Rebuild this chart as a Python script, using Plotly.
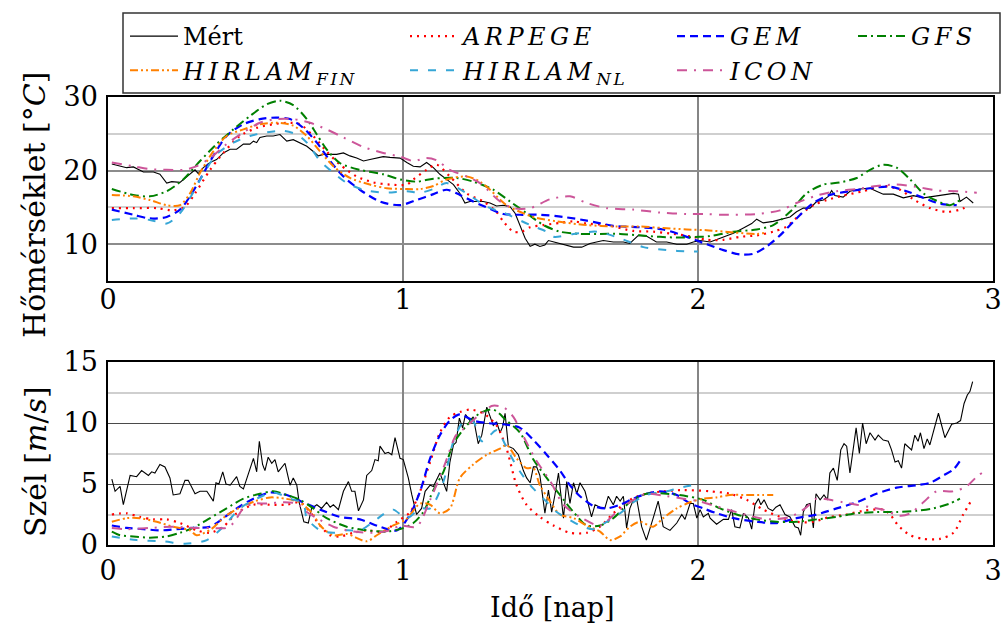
import plotly.graph_objects as go

# ---------------- DATA ----------------
# Temperature (top panel)
mert_t_x = [0.013,0.04,0.063,0.086,0.12,0.154,0.176,0.199,0.216,0.244,0.267,0.295,0.306,0.323,0.346,0.368,0.391,0.414,0.436,0.459,0.481,0.493,0.504,0.515,0.538,0.560,0.583,0.606,0.628,0.651,0.674,0.696,0.713,0.730,0.753,0.775,0.798,0.820,0.843,0.866,0.888,0.911,0.933,0.956,0.990,1.013,1.035,1.058,1.080,1.103,1.125,1.148,1.171,1.193,1.210,1.227,1.250,1.272,1.295,1.317,1.340,1.363,1.380,1.397,1.414,1.431,1.447,1.464,1.481,1.493,1.510,1.544,1.578,1.606,1.634,1.656,1.679,1.713,1.747,1.769,1.798,1.825,1.859,1.894,1.928,1.962,1.984,2.007,2.041,2.075,2.12,2.154,2.182,2.199,2.221,2.255,2.289,2.312,2.334,2.357,2.380,2.402,2.425,2.442,2.453,2.464,2.492,2.515,2.549,2.583,2.605,2.628,2.662,2.696,2.730,2.764,2.798,2.832,2.866,2.883,2.888,2.910,2.933]
mert_t_y = [20.9,20.6,20.4,20.5,19.8,19.8,19.5,18.3,18.5,18.4,19.2,20.1,19.6,20.4,21.1,21.5,22.4,22.9,22.9,23.6,23.6,24.0,23.8,24.5,24.7,24.7,24.9,24.0,24.2,23.8,23.3,22.6,22.0,22.2,22.2,22.2,22.4,22.0,21.7,21.3,21.5,21.7,21.9,21.8,21.7,21.1,20.6,20.5,21.1,20.4,19.5,18.8,18.1,16.9,15.6,15.8,15.8,15.8,15.6,15.2,15.3,15.1,14.2,12.4,10.8,9.7,10.0,9.7,9.9,10.5,10.3,9.9,9.6,9.6,10.1,10.3,10.5,10.3,10.3,10.1,11.2,11.1,10.3,10.3,10.0,10.0,10.3,10.5,10.3,10.8,11.5,12.2,12.8,13.4,12.9,13.1,13.5,13.7,14.4,14.9,14.9,15.8,16.0,16.5,17.3,16.6,16.4,17.2,17.5,17.6,17.2,16.8,16.8,16.3,16.6,16.3,16.5,16.7,16.9,16.8,15.8,16.4,15.6]

arpege_t_x = [0.013,0.086,0.165,0.221,0.261,0.295,0.346,0.391,0.447,0.504,0.560,0.617,0.651,0.696,0.741,0.787,0.843,0.899,0.956,1.013,1.035,1.080,1.114,1.159,1.216,1.272,1.317,1.340,1.374,1.402,1.431,1.476,1.532,1.578,1.623,1.690,1.781,1.849,1.916,1.984,2.029,2.086,2.142,2.199,2.255,2.300,2.346,2.391,2.436,2.492,2.560,2.628,2.685,2.730,2.787,2.843,2.888,2.910]
arpege_t_y = [14.9,14.9,14.9,14.6,15.1,16.9,20.1,22.4,24.7,25.8,26.3,26.5,26.3,24.7,22.6,20.8,19.2,18.4,18.1,18.1,18.8,20.1,20.8,19.2,16.9,15.8,14.4,13.1,11.7,11.7,12.3,12.6,12.9,13.1,12.8,12.6,11.8,11.7,11.4,11.0,10.6,10.6,11.0,11.2,11.7,12.4,14.0,15.3,16.0,16.6,17.2,17.9,17.4,16.1,14.9,14.4,14.7,15.1]

gem_t_x = [0.013,0.086,0.142,0.199,0.244,0.278,0.312,0.357,0.402,0.459,0.515,0.571,0.617,0.662,0.708,0.753,0.798,0.854,0.922,0.990,1.046,1.103,1.148,1.193,1.238,1.295,1.340,1.397,1.464,1.544,1.623,1.713,1.803,1.882,1.962,2.029,2.086,2.142,2.188,2.233,2.278,2.334,2.391,2.447,2.515,2.583,2.651,2.707,2.764,2.820,2.877]
gem_t_y = [14.7,14.0,13.5,13.7,14.7,16.5,18.8,22.0,24.7,26.3,27.0,27.2,27.0,25.8,23.8,21.3,19.2,17.4,15.8,15.3,16.0,16.8,17.4,16.7,15.8,14.8,14.1,14.0,14.0,13.7,13.2,12.5,12.3,12.0,11.0,10.0,9.2,8.6,8.7,9.7,11.2,13.5,15.6,16.7,17.2,17.6,17.8,17.2,16.3,15.5,15.3]

gfs_t_x = [0.013,0.086,0.142,0.199,0.255,0.312,0.368,0.425,0.481,0.538,0.583,0.628,0.674,0.708,0.741,0.787,0.854,0.933,0.990,1.046,1.103,1.182,1.238,1.306,1.363,1.419,1.476,1.532,1.600,1.668,1.736,1.803,1.871,1.939,2.007,2.041,2.12,2.199,2.255,2.312,2.368,2.425,2.481,2.538,2.583,2.628,2.673,2.719,2.764,2.809,2.854,2.888]
gfs_t_y = [17.5,16.7,16.5,17.2,18.8,21.3,23.6,25.6,27.4,29.0,29.5,28.9,27.0,24.9,22.9,21.0,20.1,19.5,18.8,18.5,18.9,19.0,18.5,17.4,15.8,14.2,12.6,11.7,11.4,11.4,11.4,11.2,11.0,10.9,11.0,11.1,11.7,12.0,12.6,14.4,16.9,18.1,18.4,19.0,20.1,20.8,20.4,18.8,16.9,15.9,15.3,16.0]

hfin_t_x = [0.013,0.086,0.142,0.199,0.244,0.278,0.312,0.357,0.402,0.459,0.515,0.571,0.628,0.674,0.719,0.764,0.820,0.888,0.945,1.013,1.058,1.103,1.148,1.216,1.261,1.295,1.351,1.442,1.521,1.623,1.724,1.803,1.882,1.962,2.029,2.12,2.199,2.233]
hfin_t_y = [16.7,16.5,16.0,15.3,15.3,16.9,19.7,22.6,24.7,25.6,26.3,26.5,26.1,24.7,22.6,20.6,19.0,18.1,17.6,17.5,17.5,17.9,18.8,19.2,18.5,17.4,15.3,13.7,13.1,12.6,12.4,12.4,12.2,12.0,11.9,11.6,11.4,11.6]

hnl_t_x = [0.013,0.086,0.142,0.199,0.244,0.284,0.323,0.368,0.425,0.481,0.538,0.594,0.640,0.674,0.719,0.764,0.810,0.866,0.933,1.013,1.058,1.103,1.148,1.216,1.284,1.340,1.431,1.487,1.510,1.578,1.657,1.736,1.815,1.894,1.973,2.0]
hnl_t_y = [13.3,13.5,13.3,12.8,14.2,16.7,19.5,22.2,23.8,24.7,25.2,25.4,24.9,23.8,21.3,19.7,18.3,17.4,17.0,17.2,17.0,17.5,18.3,16.9,15.1,14.3,12.6,11.7,11.0,11.4,11.7,10.8,9.6,9.2,9.0,9.0]

icon_t_x = [0.013,0.086,0.142,0.199,0.255,0.301,0.346,0.402,0.459,0.515,0.571,0.628,0.685,0.741,0.798,0.866,0.933,0.990,1.035,1.080,1.114,1.159,1.216,1.261,1.329,1.374,1.431,1.498,1.566,1.623,1.690,1.781,1.871,1.962,2.029,2.086,2.199,2.278,2.334,2.402,2.470,2.538,2.605,2.673,2.741,2.809,2.877,2.945]
icon_t_y = [21.1,20.6,20.2,20.1,20.1,20.6,21.7,23.6,25.2,26.5,27.0,27.0,26.5,25.6,24.5,23.2,22.4,21.9,21.3,21.7,21.4,20.1,19.2,18.3,15.8,14.9,14.9,16.1,16.5,15.6,14.9,14.7,14.3,14.1,14.1,14.0,14.1,14.6,15.6,16.6,17.2,17.5,17.9,18.1,17.8,17.3,17.2,17.0]

# Wind (bottom panel)
mert_w_x = [0.013,0.024,0.041,0.052,0.075,0.097,0.114,0.137,0.148,0.159,0.176,0.193,0.210,0.221,0.244,0.261,0.272,0.295,0.312,0.335,0.357,0.366,0.376,0.389,0.400,0.414,0.436,0.447,0.459,0.476,0.493,0.504,0.513,0.524,0.532,0.543,0.555,0.566,0.577,0.600,0.617,0.628,0.640,0.648,0.664,0.679,0.690,0.708,0.724,0.741,0.753,0.764,0.781,0.798,0.815,0.826,0.837,0.849,0.866,0.877,0.894,0.905,0.916,0.922,0.939,0.950,0.962,0.973,0.990,1.001,1.018,1.030,1.046,1.063,1.075,1.092,1.103,1.125,1.148,1.159,1.171,1.180,1.191,1.202,1.212,1.227,1.238,1.255,1.267,1.284,1.295,1.306,1.317,1.329,1.338,1.346,1.357,1.374,1.391,1.408,1.419,1.431,1.442,1.453,1.464,1.481,1.493,1.504,1.515,1.527,1.544,1.555,1.566,1.578,1.589,1.600,1.617,1.639,1.651,1.668,1.684,1.696,1.713,1.724,1.736,1.747,1.758,1.769,1.781,1.792,1.809,1.825,1.848,1.865,1.882,1.905,1.928,1.945,1.956,1.973,1.984,1.996,2.007,2.018,2.035,2.041,2.063,2.086,2.103,2.114,2.125,2.142,2.154,2.171,2.182,2.193,2.205,2.213,2.224,2.238,2.253,2.264,2.278,2.295,2.312,2.329,2.340,2.348,2.357,2.368,2.380,2.391,2.400,2.414,2.427,2.439,2.447,2.459,2.472,2.484,2.495,2.504,2.515,2.527,2.536,2.547,2.558,2.570,2.583,2.600,2.611,2.628,2.645,2.656,2.668,2.679,2.690,2.701,2.724,2.735,2.746,2.754,2.766,2.777,2.786,2.798,2.815,2.837,2.860,2.877,2.890,2.902,2.913,2.922,2.931]
mert_w_y = [5.4,4.4,4.8,3.3,5.7,5.6,6.1,5.7,6.0,5.9,6.6,6.4,5.5,4.1,4.2,5.3,5.3,4.2,4.4,4.4,3.6,5.1,5.0,6.0,5.0,4.9,5.6,4.8,4.6,5.9,7.1,6.0,8.5,6.6,6.1,7.2,6.7,7.0,6.0,6.7,4.9,5.5,4.9,3.5,1.9,1.8,3.0,3.3,3.0,3.5,3.1,3.3,2.9,4.4,5.2,4.4,4.4,2.8,3.7,5.7,6.1,7.0,6.9,8.1,7.5,7.6,7.4,8.8,7.1,7.0,5.5,4.1,2.5,3.0,4.4,4.9,4.8,5.9,4.4,6.8,8.2,8.4,10.4,9.6,10.7,10.2,10.5,8.3,9.0,11.3,10.5,9.8,10.1,9.2,9.7,10.8,8.1,7.9,7.4,6.1,5.5,5.1,6.4,6.4,5.7,2.6,4.5,2.7,4.1,5.9,2.2,5.2,3.4,5.1,4.2,5.1,4.4,2.3,3.3,3.1,3.0,4.0,3.3,4.0,3.6,4.0,1.4,3.0,3.7,3.8,1.5,0.4,2.2,3.6,1.5,1.2,1.8,2.5,2.1,3.4,3.4,2.2,2.9,2.3,2.6,2.2,1.7,2.1,2.1,2.9,1.5,1.4,2.6,2.2,1.3,3.3,3.8,3.3,3.7,3.0,2.8,3.1,3.3,2.5,2.3,1.5,1.4,0.8,2.7,3.3,3.4,1.4,4.2,3.7,4.1,3.7,5.9,6.3,5.3,7.8,8.3,8.1,5.9,7.9,9.6,7.5,10.0,8.3,9.2,8.6,9.0,8.6,8.5,7.8,6.8,6.9,6.3,8.3,7.8,9.0,8.5,9.2,7.9,8.7,8.2,9.3,10.8,8.8,9.9,10.0,10.2,11.6,12.3,12.6,13.4]

arpege_w_x = [0.013,0.063,0.108,0.154,0.199,0.244,0.301,0.346,0.391,0.436,0.493,0.549,0.606,0.651,0.685,0.719,0.753,0.787,0.832,0.877,0.933,0.979,1.024,1.058,1.092,1.125,1.159,1.193,1.227,1.272,1.317,1.351,1.385,1.419,1.464,1.510,1.566,1.623,1.668,1.713,1.769,1.825,1.882,1.950,2.041,2.108,2.165,2.221,2.278,2.334,2.391,2.447,2.504,2.560,2.628,2.651,2.679,2.719,2.764,2.820,2.866,2.899,2.928]
arpege_w_y = [2.5,2.6,2.3,2.1,2.1,1.8,1.2,1.0,1.5,2.6,3.3,3.3,3.3,3.5,2.7,1.6,0.8,0.7,1.0,1.2,1.1,1.9,2.7,4.4,6.8,9.2,10.5,10.9,11.1,10.8,9.8,7.9,4.9,3.3,2.3,1.6,1.0,1.0,1.5,2.6,3.7,4.2,4.4,4.5,4.4,4.2,3.7,2.9,2.3,1.9,1.9,2.3,2.5,2.8,2.9,2.5,1.6,0.8,0.5,0.5,1.0,2.5,3.7]

gem_w_x = [0.013,0.063,0.120,0.176,0.233,0.289,0.346,0.391,0.436,0.493,0.549,0.606,0.662,0.719,0.787,0.854,0.922,0.979,1.024,1.058,1.092,1.125,1.159,1.193,1.238,1.284,1.340,1.397,1.442,1.487,1.532,1.566,1.600,1.645,1.690,1.736,1.781,1.825,1.871,1.928,1.973,2.018,2.063,2.12,2.199,2.266,2.334,2.402,2.470,2.538,2.605,2.673,2.741,2.787,2.832,2.866,2.888]
gem_w_y = [1.6,1.4,1.3,1.2,1.3,1.4,1.5,2.2,3.0,3.8,4.3,4.1,3.5,2.9,2.3,2.1,1.5,1.2,2.5,4.4,7.1,9.0,10.2,10.7,10.2,10.0,9.9,9.6,8.6,7.4,6.1,4.9,4.0,3.2,3.0,3.3,3.8,4.2,4.4,4.1,3.4,3.0,2.6,2.2,1.9,1.8,2.2,2.5,3.0,3.5,4.2,4.7,4.9,5.1,5.7,6.2,6.9]

gfs_w_x = [0.013,0.041,0.086,0.142,0.199,0.244,0.289,0.346,0.402,0.459,0.515,0.560,0.606,0.651,0.696,0.741,0.809,0.877,0.945,0.990,1.035,1.069,1.103,1.137,1.171,1.216,1.261,1.306,1.351,1.397,1.442,1.487,1.532,1.578,1.623,1.668,1.713,1.769,1.825,1.894,1.962,2.018,2.075,2.131,2.199,2.266,2.334,2.402,2.470,2.538,2.605,2.673,2.741,2.798,2.854,2.888]
gfs_w_y = [1.1,0.8,0.7,0.6,0.7,1.0,1.4,2.2,3.0,3.8,4.2,4.4,4.1,3.7,3.0,2.2,1.5,1.2,1.1,1.3,1.8,2.7,4.5,6.0,8.3,9.8,10.8,11.1,10.2,9.2,7.0,5.5,4.1,2.7,1.6,1.6,2.2,3.5,4.2,4.2,4.0,3.7,3.0,2.5,2.1,1.9,1.9,2.1,2.3,2.6,2.7,2.7,2.8,3.0,3.4,3.8]

hfin_w_x = [0.013,0.063,0.108,0.165,0.221,0.278,0.30,0.35,0.40,0.45,0.50,0.55,0.60,0.65,0.696,0.719,0.764,0.81,0.877,0.911,0.967,1.01,1.058,1.092,1.125,1.159,1.193,1.238,1.284,1.329,1.351,1.385,1.419,1.442,1.464,1.498,1.532,1.578,1.623,1.668,1.702,1.736,1.769,1.803,1.848,1.882,1.928,1.973,2.018,2.063,2.108,2.165,2.221,2.255]
hfin_w_y = [1.9,2.2,2.2,1.9,1.5,1.2,0.8,1.3,2.4,3.1,3.6,3.9,3.8,3.5,2.5,1.6,0.8,0.9,0.3,0.8,1.6,2.1,3.4,3.3,2.6,3.0,5.5,6.6,7.4,7.9,8.2,7.1,6.3,6.3,4.9,3.6,2.5,2.2,1.6,1.1,0.4,0.7,1.5,1.9,1.5,2.2,3.0,3.5,3.8,3.9,4.1,4.1,4.1,4.1]

hnl_w_x = [0.013,0.097,0.188,0.261,0.335,0.391,0.447,0.504,0.560,0.617,0.662,0.674,0.719,0.764,0.809,0.854,0.899,0.945,0.967,1.013,1.058,1.092,1.137,1.171,1.205,1.238,1.267,1.295,1.317,1.363,1.397,1.431,1.476,1.521,1.555,1.600,1.645,1.690,1.736,1.781,1.825,1.894,1.939,2.007]
hnl_w_y = [0.7,0.4,0.3,0.1,0.4,1.5,3.0,3.8,4.3,3.8,3.4,2.2,1.2,1.0,1.2,1.2,1.9,2.7,2.9,2.2,3.0,3.0,5.2,8.5,10.1,10.1,8.5,9.0,9.4,7.4,6.0,4.9,3.8,2.7,2.2,1.6,1.3,1.9,2.6,3.5,4.1,4.4,4.7,5.0]

icon_w_x = [0.013,0.063,0.142,0.221,0.289,0.346,0.402,0.425,0.459,0.493,0.538,0.594,0.640,0.674,0.708,0.764,0.832,0.899,0.956,0.99,1.046,1.092,1.14,1.18,1.21,1.25,1.28,1.30,1.34,1.374,1.40,1.45,1.50,1.544,1.60,1.668,1.724,1.781,1.825,1.894,1.95,2.0,2.086,2.21,2.255,2.312,2.363,2.402,2.447,2.492,2.538,2.583,2.628,2.685,2.72,2.764,2.809,2.866,2.910,2.945,2.962]
icon_w_y = [1.4,1.3,1.4,1.5,1.4,1.4,1.4,1.8,3.0,3.4,3.4,3.5,3.4,2.7,2.2,1.5,1.1,1.0,1.2,1.6,1.5,3.7,6.5,9.0,9.6,10.5,11.0,11.4,11.3,10.5,9.3,7.0,5.2,3.3,2.3,1.6,2.7,3.7,4.2,4.0,3.8,3.6,3.0,2.2,2.1,2.3,3.0,3.8,3.7,3.5,3.3,3.1,2.9,2.4,2.6,3.5,4.4,4.4,4.8,5.6,5.9]

x_ticks = [0, 1, 2, 3]
temp_ticks = [10, 20, 30]
wind_ticks = [0, 5, 10, 15]

# ---------------- STYLE ----------------
FONT = "DejaVu Serif"
SP = "<span style='letter-spacing:4.5px'>"
SPS = "<span style='letter-spacing:2.5px'>"
series = [
    # name, temp x, temp y, wind x, wind y, color, dash, width, legend, smooth
    ("Mért", mert_t_x, mert_t_y, mert_w_x, mert_w_y, "black", "solid", 1.1, "legend", False),
    ("<i>" + SP + "ARPEGE</span></i>", arpege_t_x, arpege_t_y, arpege_w_x, arpege_w_y, "#ff0000", "2px,5px", 2.2, "legend2", True),
    ("<i>" + SP + "GEM</span></i>", gem_t_x, gem_t_y, gem_w_x, gem_w_y, "#0000ff", "8px,5px", 2.2, "legend3", True),
    ("<i>" + SP + "GFS</span></i>", gfs_t_x, gfs_t_y, gfs_w_x, gfs_w_y, "#008000", "9px,4px,2px,4px", 2.0, "legend4", True),
    ("<i>" + SP + "HIRLAM</span><sub>" + SPS + "FIN</span></sub></i>", hfin_t_x, hfin_t_y, hfin_w_x, hfin_w_y, "#ff8000", "8px,3px,2px,3px,2px,3px", 2.0, "legend", True),
    ("<i>" + SP + "HIRLAM</span><sub>" + SPS + "NL</span></sub></i>", hnl_t_x, hnl_t_y, hnl_w_x, hnl_w_y, "#36a6d6", "8px,10px", 2.0, "legend2", True),
    ("<i>" + SP + "ICON</span></i>", icon_t_x, icon_t_y, icon_w_x, icon_w_y, "#cc5599", "10px,7px,2px,7px", 2.0, "legend3", True),
]

fig = go.Figure()
for name, tx, ty, wx, wy, col, dash, w, leg, smooth in series:
    shape = "spline" if smooth else "linear"
    fig.add_trace(go.Scatter(x=tx, y=ty, mode="lines", name=name,
                             line=dict(color=col, dash=dash, width=w, shape=shape, smoothing=0.8),
                             xaxis="x", yaxis="y", legend=leg, showlegend=True))
    fig.add_trace(go.Scatter(x=wx, y=wy, mode="lines", name=name,
                             line=dict(color=col, dash=dash, width=w, shape=shape, smoothing=0.8),
                             xaxis="x2", yaxis="y2", showlegend=False))

W, H = 1003, 627
L, R = 108, 10
def py(p):
    return 1 - p / H
def px(p):
    return (p - L) / (W - L - R)

axis_common = dict(showline=True, mirror=True, linecolor="black", linewidth=1.5,
                   zeroline=False, ticks="", automargin=False,
                   tickfont=dict(family=FONT, size=27, color="black"))

leg_common = dict(xanchor="left", yanchor="top", bgcolor="rgba(0,0,0,0)", borderwidth=0,
                  font=dict(family=FONT, size=24, color="black"), itemwidth=48,
                  tracegroupgap=0, orientation="v", itemclick=False)

fig.update_layout(
    width=W, height=H,
    margin=dict(l=L, r=R, t=0, b=0, autoexpand=False),
    paper_bgcolor="white", plot_bgcolor="white",
    font=dict(family=FONT, color="black"),
    xaxis=dict(domain=[0, 1], anchor="y", range=[0, 3], tickvals=x_ticks,
               showgrid=True, gridcolor="#858585", gridwidth=1.5,
               ticklabelstandoff=-6, **axis_common),
    yaxis=dict(domain=[py(281), py(97)], anchor="x", range=[5, 30], tickvals=temp_ticks,
               showgrid=True, gridcolor="#8c8c8c", gridwidth=1.5,
               minor=dict(tickvals=[15, 25], showgrid=True, gridcolor="#cfcfcf", gridwidth=1.5),
               ticklabelstandoff=3, **axis_common),
    xaxis2=dict(domain=[0, 1], anchor="y2", range=[0, 3], tickvals=x_ticks,
                showgrid=True, gridcolor="#858585", gridwidth=1.5,
                ticklabelstandoff=1, **axis_common),
    yaxis2=dict(domain=[py(545), py(362)], anchor="x2", range=[0, 15], tickvals=wind_ticks,
                showgrid=True, gridcolor="#4a4a4a", gridwidth=1.2,
                minor=dict(tickvals=[2.5, 7.5, 12.5], showgrid=True, gridcolor="#cfcfcf", gridwidth=1.5),
                ticklabelstandoff=3, **axis_common),
    legend=dict(x=px(125), y=py(14), **leg_common),
    legend2=dict(x=px(405), y=py(14), **leg_common),
    legend3=dict(x=px(672), y=py(14), **leg_common),
    legend4=dict(x=px(853), y=py(14), **leg_common),
    shapes=[dict(type="rect", xref="paper", yref="paper",
                 x0=px(123), x1=px(1000), y0=py(93), y1=py(13),
                 line=dict(color="#333333", width=1.5), fillcolor="rgba(0,0,0,0)", layer="above")],
    annotations=[
        dict(text="Hőmérséklet [°<i>C</i>]", xref="paper", yref="paper", x=px(35), y=py(205),
             textangle=-90, showarrow=False, font=dict(family=FONT, size=30, color="black"),
             xanchor="center", yanchor="middle"),
        dict(text="Szél [<i>m</i>/<i>s</i>]", xref="paper", yref="paper", x=px(35), y=py(462),
             textangle=-90, showarrow=False, font=dict(family=FONT, size=30, color="black"),
             xanchor="center", yanchor="middle"),
        dict(text="Idő [nap]", xref="paper", yref="paper", x=px(552), y=py(607),
             showarrow=False, font=dict(family=FONT, size=27, color="black"),
             xanchor="center", yanchor="middle"),
    ],
)

fig.write_html("out.html")
